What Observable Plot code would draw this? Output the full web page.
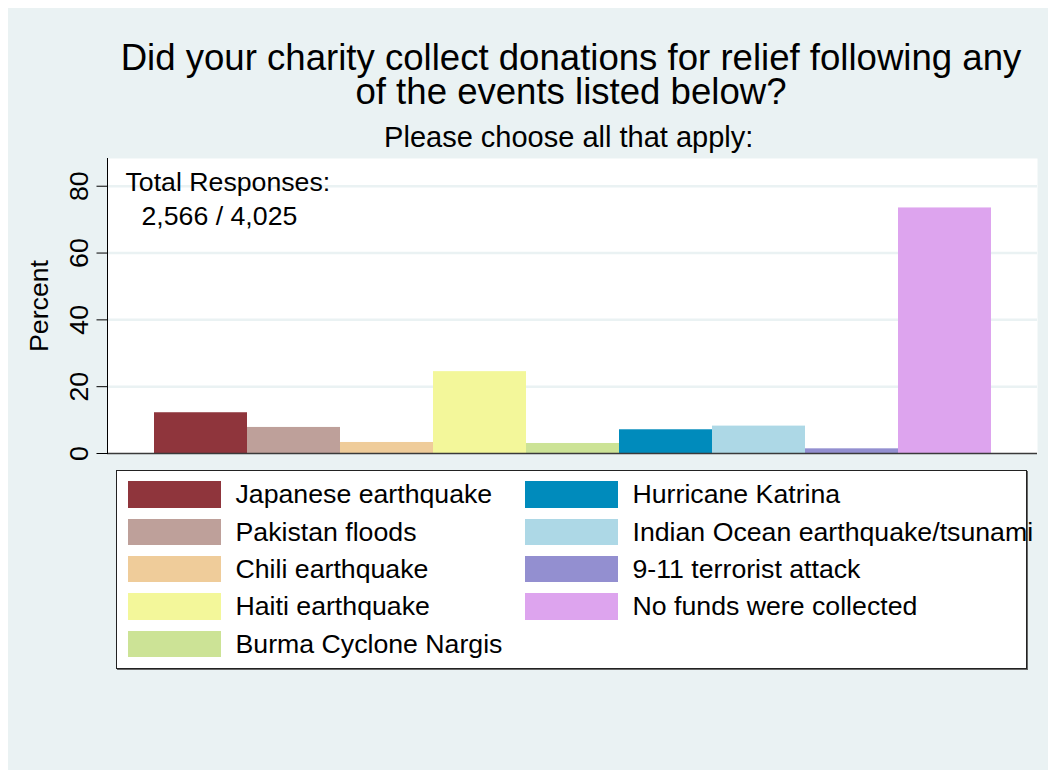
<!DOCTYPE html>
<html>
<head>
<meta charset="utf-8">
<script src="https://cdn.jsdelivr.net/npm/d3@7"></script>
<script src="https://cdn.jsdelivr.net/npm/@observablehq/plot@0.6"></script>
<style>
  html, body { margin: 0; padding: 0; background: #ffffff; }
  body { width: 1048px; height: 770px; position: relative; overflow: hidden;
         font-family: "Liberation Sans", Arial, Helvetica, sans-serif; color: #000; }
  #panel { position: absolute; left: 8px; top: 8px; width: 1040px; height: 762px; background: #eaf2f3; }
  .ttl { position: absolute; width: 1000px; text-align: center; white-space: pre; }
  #title { line-height: 34.3px; font-size: 36.6px; }
  #st { line-height: 0.9; }
  #chart { position: absolute; left: 0; top: 140px; }
  #legend { position: absolute; left: 116px; top: 470px; width: 909px; height: 197px;
            background: #fff; border: 1px solid #222; box-shadow: 1px 1px 0 #666; }
  .item { position: absolute; height: 26.5px; display: flex; align-items: center; white-space: nowrap; }
  .sw { width: 92.5px; height: 26.5px; flex: none; }
  .lab { margin-left: 15px; font-size: 26.7px; line-height: 26.5px; }
</style>
</head>
<body>
<div id="panel"></div>
<div id="title" class="ttl"></div>
<div id="st" class="ttl"></div>
<div id="chart"></div>
<div id="legend"></div>
<script>
// ---- data ----
const events = [
  "Japanese earthquake",
  "Pakistan floods",
  "Chili earthquake",
  "Haiti earthquake",
  "Burma Cyclone Nargis",
  "Hurricane Katrina",
  "Indian Ocean earthquake/tsunami",
  "9-11 terrorist attack",
  "No funds were collected"
];
const percents = [12.2, 7.8, 3.3, 24.5, 3.0, 7.1, 8.2, 1.4, 73.5];
const colors = ["#8f353c", "#bea09a", "#efcc9a", "#f3f79a", "#cce396", "#008bbc", "#add8e6", "#938fd0", "#dda4ee"];
const yTicks = [0, 20, 40, 60, 80];
const titleLines = ["Did your charity collect donations for relief following any", "of the events listed below?"];
const subtitle = "Please choose all that apply:";
const yLabel = "Percent";
const noteLine1 = ["Total Responses:"];
const noteLine2 = ["2,566 / 4,025"];

const data = events.map((e, i) => ({event: e, pct: percents[i]}));

// ---- titles ----
const title = document.getElementById("title");
title.textContent = titleLines.join("\n");
Object.assign(title.style, {left: (571 - 500) + "px", top: "40.8px"});
const st = document.getElementById("st");
st.textContent = subtitle;
Object.assign(st.style, {left: (568.7 - 500) + "px", top: "124.2px", fontSize: "29px"});

// ---- chart ----
const fs = 26.7;
const chart = Plot.plot({
  width: 1048,
  height: 330,
  marginLeft: 107,
  marginRight: 11,
  marginTop: 18,
  marginBottom: 17,
  style: {background: "transparent", fontFamily: "'Liberation Sans', Arial, sans-serif", color: "#000"},
  x: {domain: events, paddingInner: 0, paddingOuter: 0.488, axis: null},
  y: {domain: [0, 88.3], axis: null},
  color: {domain: events, range: colors},
  marks: [
    Plot.frame({fill: "#ffffff", stroke: null}),
    Plot.ruleY(yTicks.filter(d => d > 0), {stroke: "#eaf2f3", strokeWidth: 2.5}),
    Plot.barY(data, {x: "event", y: "pct", fill: "event", inset: 0}),
    Plot.ruleY([0], {stroke: "#3a3a3a", strokeWidth: 1.5}),
    Plot.frame({anchor: "left", stroke: "#000", strokeWidth: 1}),
    Plot.axisY(yTicks, {tickSize: 10.5, stroke: "#000", tickFormat: () => "", label: null}),
    Plot.text(yTicks, {y: d => d, text: d => String(d), frameAnchor: "left", rotate: -90,
      textAnchor: "middle", lineAnchor: "bottom", dx: -20, fontSize: fs, fill: "#000"}),
    Plot.text([yLabel], {text: d => d, frameAnchor: "left", rotate: -90,
      textAnchor: "middle", lineAnchor: "bottom", dx: -60, fontSize: fs, fill: "#000"}),
    Plot.text(noteLine1, {text: d => d, frameAnchor: "top-left", textAnchor: "start",
      lineAnchor: "bottom", dx: 18, dy: 32, fontSize: fs, fill: "#000"}),
    Plot.text(noteLine2, {text: d => d, frameAnchor: "top-left", textAnchor: "start",
      lineAnchor: "bottom", dx: 34, dy: 66, fontSize: fs, fill: "#000"})
  ]
});
document.getElementById("chart").appendChild(chart);

// ---- legend ----
const legend = document.getElementById("legend");
events.forEach((e, i) => {
  const col = i < 5 ? 0 : 1;
  const row = i < 5 ? i : i - 5;
  const item = document.createElement("div");
  item.className = "item";
  item.style.left = (col === 0 ? 11 : 408) + "px";
  item.style.top = (10.3 + row * 37.3) + "px";
  const sw = document.createElement("div");
  sw.className = "sw";
  sw.style.background = colors[i];
  const lab = document.createElement("span");
  lab.className = "lab";
  lab.textContent = e;
  item.appendChild(sw);
  item.appendChild(lab);
  legend.appendChild(item);
});
</script>
</body>
</html>
